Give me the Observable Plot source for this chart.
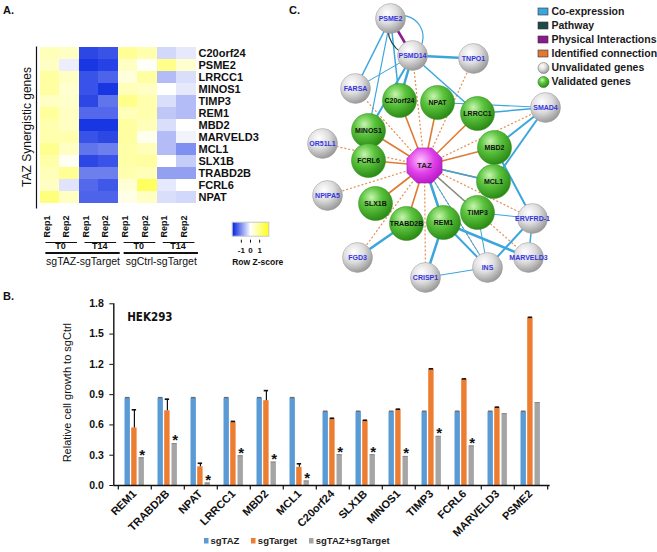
<!DOCTYPE html>
<html><head><meta charset="utf-8">
<script src="https://cdn.jsdelivr.net/npm/d3@7"></script>
<script src="https://cdn.jsdelivr.net/npm/@observablehq/plot@0.6"></script>
<style>
html,body{margin:0;padding:0;background:#fff;}
#fig{position:relative;width:657px;height:552px;overflow:hidden;background:#fff;font-family:"Liberation Sans",Arial,sans-serif;color:#111;}
.plab{position:absolute;font-weight:bold;font-size:11px;}
#legB div{min-height:0!important;margin:0!important;}
#legB span{margin-right:12px!important;}
#legB svg{margin-right:2px!important;}
</style></head>
<body><div id="fig"></div>
<svg width="0" height="0" style="position:absolute">
<defs id="defs">
<radialGradient id="gGray" cx="0.38" cy="0.32" r="0.75">
<stop offset="0" stop-color="#ffffff"/><stop offset="0.45" stop-color="#dedede"/><stop offset="1" stop-color="#8e8e8e"/></radialGradient>
<radialGradient id="gGreen" cx="0.38" cy="0.32" r="0.75">
<stop offset="0" stop-color="#c8f5b0"/><stop offset="0.4" stop-color="#5cc43e"/><stop offset="1" stop-color="#23820f"/></radialGradient>
<radialGradient id="gMag" cx="0.4" cy="0.35" r="0.75">
<stop offset="0" stop-color="#ffc0ff"/><stop offset="0.5" stop-color="#e040e8"/><stop offset="1" stop-color="#b010c0"/></radialGradient>
</defs></svg>
<script>
// ---------------- DATA ----------------
// Panel A: heatmap
const heatGenes = ["C20orf24","PSME2","LRRCC1","MINOS1","TIMP3","REM1","MBD2","MARVELD3","MCL1","SLX1B","TRABD2B","FCRL6","NPAT"];
const heatColumns = ["Rep1","Rep2","Rep1","Rep2","Rep1","Rep2","Rep1","Rep2"];
const heatTimes = ["T0","T14","T0","T14"];
const heatGroups = ["sgTAZ-sgTarget","sgCtrl-sgTarget"];
const heatZ = [
  [0.6, 0.5, -1.65, -1.55, 0.9, 0.7, -0.35, -0.2],
  [0.5, -0.15, -1.8, -1.7, 0.5, 0.05, 1.0, 0.4],
  [0.8, 0.5, -1.55, -1.4, 0.3, 0.8, -0.6, -0.3],
  [0.8, 0.4, -1.55, -1.8, 0.6, 0.5, 0.0, -0.2],
  [0.5, 0.45, -1.65, -1.25, 1.0, 0.7, -0.3, -0.6],
  [0.85, 0.5, -1.35, -1.35, 0.6, 0.7, -0.5, -0.6],
  [0.7, 0.5, -1.8, -1.8, 0.8, 0.6, -0.3, 0.0],
  [0.7, 0.7, -1.55, -1.65, 0.8, 0.15, -0.6, -0.1],
  [0.95, 0.5, -1.25, -1.15, 0.75, 0.6, -0.6, -1.0],
  [0.75, 0.1, -1.65, -1.55, 0.75, 0.8, 0.0, -0.45],
  [0.6, 0.9, -1.15, -1.15, 0.7, 0.6, -0.85, -0.85],
  [0.5, -0.25, -1.35, -1.5, 0.35, 1.35, -0.2, 0.0],
  [1.1, 0.5, -1.4, -1.4, 0.2, 0.5, -0.3, -0.35]
];
const zTicks = [-1, 0, 1];
const zDomain = [-2, 0, 2];

// Panel B: bar chart
const barGenes = ["REM1","TRABD2B","NPAT","LRRCC1","MBD2","MCL1","C20orf24","SLX1B","MINOS1","TIMP3","FCRL6","MARVELD3","PSME2"];
const barSeries = ["sgTAZ","sgTarget","sgTAZ+sgTarget"];
const sgTAZ =       [0.865,0.865,0.865,0.865,0.865,0.865,0.73,0.73,0.73,0.73,0.73,0.73,0.73];
const sgTAZErr =    [0.006,0.006,0.006,0.006,0.006,0.006,0.006,0.006,0.006,0.006,0.006,0.006,0.006];
const sgTarget =    [0.57,0.74,0.185,0.625,0.84,0.18,0.66,0.64,0.75,1.15,1.05,0.77,1.66];
const sgTargetErr = [0.18,0.115,0.035,0.01,0.10,0.035,0.006,0.006,0.006,0.006,0.006,0.006,0.006];
const sgCombo =     [0.275,0.415,0.025,0.295,0.232,0.045,0.305,0.305,0.288,0.487,0.393,0.712,0.822];
const comboSignificant = [true,true,true,true,true,true,true,true,true,true,true,false,false];
const barYTicks = [0, 0.3, 0.6, 0.9, 1.2, 1.5, 1.8];
const cellLine = "HEK293";

// Panel C: network
const netNodes =  ["PSME2","PSMD14","TNPO1","FARSA","C20orf24","NPAT","LRRCC1","SMAD4","MINOS1","MBD2","OR51L1","TAZ","FCRL6","MCL1","NPIPA5","SLX1B","TIMP3","TRABD2B","REM1","ERVFRD-1","FGD3","MARVELD3","CRISP1","INS"];
const netX =      [100,122,183,65,109,147,187,255,78,204,32,134,78,203,37,85,187,116,153,242,67,238,135,197];
const netY =      [18,55,58,88,100,102,113,107,130,147,143,165,160,181,195,203,212,223,222,218,257,257,277,267];
const validatedGenes = ["C20orf24","NPAT","LRRCC1","MINOS1","MBD2","FCRL6","MCL1","SLX1B","TIMP3","TRABD2B","REM1"];
const unvalidatedGenes = ["PSME2","PSMD14","TNPO1","FARSA","SMAD4","OR51L1","NPIPA5","ERVFRD-1","FGD3","MARVELD3","CRISP1","INS"];
const hubGene = "TAZ";
const edgeTypes = ["Co-expression","Pathway","Physical Interactions","Identified connection"];
const geneTypes = ["Unvalidated genes","Validated genes"];
const coexpEdges = [
  ["PSME2","FARSA",1.5],["PSME2","MINOS1",1.2],["PSME2","C20orf24",1.5],["PSMD14","FARSA",1],
  ["PSMD14","TNPO1",2.5],["PSMD14","C20orf24",2.5],["PSMD14","MINOS1",2],["PSMD14","LRRCC1",1.5],
  ["NPAT","SMAD4",1.2],["LRRCC1","SMAD4",1.5],["SMAD4","MBD2",2],["SMAD4","MCL1",2],["MBD2","ERVFRD-1",2],
  ["TAZ","MCL1",1.5],["TAZ","REM1",2.5],["TAZ","TIMP3",1],["TAZ","INS",1],["TIMP3","ERVFRD-1",1],["TIMP3","INS",1],
  ["REM1","MARVELD3",2.5],["REM1","INS",2],["REM1","CRISP1",2.5],["TRABD2B","FGD3",2.5],["CRISP1","INS",1],
  ["INS","ERVFRD-1",2],["ERVFRD-1","MARVELD3",1.5]
];
const coexpLoops = [["PSME2","PSMD14",1.2]];
const pathwayEdges = [["PSME2","PSMD14",1.3]];
const physicalEdges = [["PSME2","PSMD14",2.5]];
const identifiedTargets = ["C20orf24","NPAT","LRRCC1","MBD2","MINOS1","FCRL6","SLX1B","TRABD2B","REM1","TIMP3","MCL1",
  "PSMD14","TNPO1","FARSA","SMAD4","OR51L1","NPIPA5","FGD3","CRISP1","INS","ERVFRD-1","MARVELD3"];

// ---------------- STYLE ----------------
const FONT = '"Liberation Sans", Arial, sans-serif';
const NARROW = '"Liberation Sans Narrow", "DejaVu Sans Condensed", "Liberation Sans", Arial, sans-serif';
const heatRange = ["#0020e0", "#ffffff", "#ffff14"];
const barColors = ["#5b9bd5", "#ed7d31", "#a5a5a5"];
const edgeColors = ["#3aa6dc", "#1d4a48", "#8b1a8e", "#e07a32"];
const baseStyle = {fontFamily: FONT, fontSize: "11px", fontWeight: "bold", color: "#111", background: "transparent", overflow: "visible"};

const fig = document.getElementById("fig");
function place(el, left, top) { el.style.position = "absolute"; el.style.left = left + "px"; el.style.top = top + "px"; fig.appendChild(el); return el; }
function label(txt, left, top) { const d = document.createElement("div"); d.className = "plab"; d.textContent = txt; place(d, left, top); }

// ---------------- PANEL A ----------------
const heatCells = heatGenes.flatMap((g, i) => heatZ[i].map((z, j) => ({gene: g, col: j, z})));
const midA = (40.5 + 208.5) / 2;
const heatA = Plot.plot({
  width: 300, height: 280,
  marginLeft: 39.5, marginRight: 104, marginTop: 40.5, marginBottom: 71.5,
  style: baseStyle,
  x: {domain: [0, 8], axis: null},
  y: {domain: heatGenes, padding: 0},
  color: {type: "linear", domain: zDomain, range: heatRange},
  marks: [
    Plot.barX(heatCells, {x1: "col", x2: d => d.col + 1, y: "gene", fill: "z", shapeRendering: "crispEdges"}),
    Plot.axisY({anchor: "right", tickSize: 0, tickPadding: 2, fontSize: 11, fontWeight: "bold", label: null}),
    Plot.text(["TAZ Synergistic genes"], {frameAnchor: "left", textAnchor: "middle", rotate: -90, dx: -13, dy: 2, fontSize: 12, fontWeight: "normal"}),
    Plot.ruleX([0], {dx: -3.5, insetTop: 6, strokeWidth: 1.2}),
    Plot.text(heatColumns, {x: (d, i) => i + 0.5, frameAnchor: "bottom", rotate: -90, textAnchor: "end", dy: 6.5, fontSize: 9}),
    Plot.ruleY(heatTimes, {y: null, x1: (d, i) => 2 * i + 0.3, x2: (d, i) => 2 * i + 1.92, dy: 242 - midA, strokeWidth: 1}),
    Plot.text(heatTimes, {x: (d, i) => 2 * i + 1.05, frameAnchor: "bottom", dy: 40, fontSize: 9}),
    Plot.ruleY(heatGroups, {y: null, x1: (d, i) => 4 * i + 0.3, x2: (d, i) => 4 * i + 4.1, dy: 252.5 - midA, strokeWidth: 2}),
    Plot.text(heatGroups, {x: (d, i) => 4 * i + 2.2, frameAnchor: "bottom", dy: 56, fontSize: 10.5, fontWeight: "normal"})
  ]
});
place(heatA, 0, 0);

// gradient for z legend from the heatmap's own color scale
const cs = heatA.scale("color");
const NS = "http://www.w3.org/2000/svg";
const grad = document.createElementNS(NS, "linearGradient");
grad.setAttribute("id", "zgrad");
[-2, -1, 0, 1, 2].forEach((v, k) => {
  const s = document.createElementNS(NS, "stop");
  s.setAttribute("offset", k / 4);
  s.setAttribute("stop-color", cs.apply(v));
  grad.appendChild(s);
});
document.getElementById("defs").appendChild(grad);

const zLeg = Plot.plot({
  width: 60, height: 52, marginLeft: 6.7, marginRight: 16.7, marginTop: 6.7, marginBottom: 31.3,
  style: baseStyle,
  x: {domain: [zDomain[0], zDomain[2]]},
  marks: [
    Plot.frame({fill: "url(#zgrad)", stroke: "#c8c8c8"}),
    Plot.axisX({ticks: zTicks, tickFormat: d => String(d), tickSize: 3, tickPadding: 4, dy: 4, fontSize: 8, fontWeight: "bold", label: null}),
    Plot.text(["Row Z-score"], {frameAnchor: "bottom-left", textAnchor: "start", lineAnchor: "middle", dy: 26.5, fontSize: 8.5, fontWeight: "bold"})
  ]
});
place(zLeg, 225, 215);

// ---------------- PANEL C ----------------
const pos = Object.fromEntries(netNodes.map((n, i) => [n, [netX[i], netY[i]]]));
const toEdges = (list, type) => list.map(([s, t, w]) => ({source: s, target: t, type, w}));
const coexp = toEdges(coexpEdges, edgeTypes[0]);
const loops = toEdges(coexpLoops, edgeTypes[0]);
const pathway = toEdges(pathwayEdges, edgeTypes[1]);
const physical = toEdges(physicalEdges, edgeTypes[2]);
const identified = identifiedTargets.map(t => ({source: hubGene, target: t, type: edgeTypes[3], w: 1.6}));
const idSolid = identified.filter(d => validatedGenes.includes(d.target));
const idDashed = identified.filter(d => !validatedGenes.includes(d.target));
const ends = {x1: d => pos[d.source][0], y1: d => pos[d.source][1], x2: d => pos[d.target][0], y2: d => pos[d.target][1]};
const nodeXY = {x: d => pos[d][0], y: d => pos[d][1]};
const octagon = {draw(ctx, size) {
  const r = Math.sqrt(size / Math.PI);
  for (let k = 0; k < 8; ++k) {
    const a = Math.PI / 8 + k * Math.PI / 4;
    const px = r * Math.cos(a), py = r * Math.sin(a);
    if (k) ctx.lineTo(px, py); else ctx.moveTo(px, py);
  }
  ctx.closePath();
}};
const net = Plot.plot({
  width: 367, height: 290, margin: 0,
  style: baseStyle,
  x: {domain: [0, 367], range: [0, 367], axis: null},
  y: {domain: [0, 290], range: [0, 290], axis: null},
  color: {domain: edgeTypes, range: edgeColors},
  marks: [
    Plot.link(idDashed, {...ends, stroke: "type", strokeWidth: 1.2, strokeDasharray: "2,2", strokeOpacity: 0.85}),
    Plot.link(idSolid, {...ends, stroke: "type", strokeWidth: "w"}),
    Plot.link(coexp, {...ends, stroke: "type", strokeWidth: "w"}),
    Plot.arrow(loops, {...ends, bend: 110, headLength: 0, stroke: "type", strokeWidth: "w"}),
    Plot.arrow(pathway, {...ends, bend: -55, headLength: 0, stroke: "type", strokeWidth: "w"}),
    Plot.link(physical, {...ends, stroke: "type", strokeWidth: "w"}),
    Plot.dot(unvalidatedGenes, {...nodeXY, r: 15, fill: "url(#gGray)", stroke: "#9a9a9a", strokeWidth: 0.5}),
    Plot.dot(validatedGenes, {...nodeXY, r: 17, fill: "url(#gGreen)", stroke: "#2a8a18", strokeWidth: 0.5}),
    Plot.dot([hubGene], {...nodeXY, r: 19, symbol: octagon, fill: "url(#gMag)", stroke: "#a020b0", strokeWidth: 0.6}),
    Plot.text(unvalidatedGenes, {...nodeXY, text: d => d, fontSize: 7, fontWeight: "bold", fill: "#3434e0"}),
    Plot.text(validatedGenes, {...nodeXY, text: d => d, fontSize: 7, fontWeight: "bold", fill: "#111"}),
    Plot.text([hubGene], {...nodeXY, text: d => d, fontSize: 8, fontWeight: "bold", fill: "#222"})
  ]
});
place(net, 290, 0);

const legendItems = edgeTypes.concat(geneTypes);
const legC = Plot.plot({
  width: 122, height: 86, marginLeft: 0, marginRight: 0, marginTop: 0, marginBottom: 0,
  style: baseStyle,
  x: {type: "band", domain: ["icon"], range: [2.7, 13.3], padding: 0, axis: null},
  y: {domain: legendItems, paddingInner: 0.5, paddingOuter: 0.25, axis: null},
  color: {domain: edgeTypes, range: edgeColors},
  marks: [
    Plot.cell(edgeTypes, {x: () => "icon", y: d => d, fill: d => d, stroke: "#333", strokeWidth: 0.6}),
    Plot.dot([geneTypes[0]], {x: () => "icon", y: d => d, r: 5.5, fill: "url(#gGray)", stroke: "#777", strokeWidth: 0.6}),
    Plot.dot([geneTypes[1]], {x: () => "icon", y: d => d, r: 5.5, fill: "url(#gGreen)", stroke: "#2a7a18", strokeWidth: 0.6}),
    Plot.text(legendItems, {x: () => "icon", y: d => d, text: d => d, textAnchor: "start", dx: 8, fontSize: 10.5, fontWeight: "bold", fill: "#1a1a1a"})
  ]
});
place(legC, 535, 3);

// ---------------- PANEL B ----------------
const barData = barGenes.map((gene, i) => ({gene, taz: sgTAZ[i], tazErr: sgTAZErr[i], target: sgTarget[i], targetErr: sgTargetErr[i], combo: sgCombo[i], star: comboSignificant[i]}));
const BW = 33.4;
const SLOT = {taz: [6.5, 12.3], target: [13.2, 19.0], combo: [20.5, 26.3]};
const ins = ([a, b], e = 0) => ({insetLeft: a + e, insetRight: BW - b + e});
const mid = ([a, b]) => (a + b) / 2 - BW / 2;
const bTop = 13.3, bBottom = 67;
const barB = Plot.plot({
  width: 657, height: 262,
  marginLeft: 115.5, marginRight: 657 - 115.5 - 13 * BW, marginTop: bTop, marginBottom: bBottom,
  style: baseStyle,
  x: {domain: barGenes, padding: 0, axis: null},
  y: {domain: [0, 1.8]},
  color: {domain: barSeries, range: barColors},
  marks: [
    Plot.barY(barData, {x: "gene", y: "taz", fill: () => barSeries[0], ...ins(SLOT.taz)}),
    Plot.barY(barData, {x: "gene", y: "target", fill: () => barSeries[1], ...ins(SLOT.target)}),
    Plot.barY(barData, {x: "gene", y: "combo", fill: () => barSeries[2], ...ins(SLOT.combo)}),
    Plot.tickY(barData, {x: "gene", y: d => d.taz + d.tazErr, ...ins(SLOT.taz, 0.5), stroke: "#6a6a6a", strokeWidth: 1.4}),
    Plot.ruleX(barData, {x: "gene", y1: "target", y2: d => d.target + d.targetErr, dx: mid(SLOT.target), stroke: "#111", strokeWidth: 1.2}),
    Plot.tickY(barData, {x: "gene", y: d => d.target + d.targetErr, ...ins(SLOT.target, 0.5), stroke: "#111", strokeWidth: 1.6}),
    Plot.tickY(barData, {x: "gene", y: "combo", ...ins(SLOT.combo, 0.3), stroke: "#888", strokeWidth: 1}),
    Plot.text(barData.filter(d => d.star), {x: "gene", y: "combo", text: () => "*", dx: mid(SLOT.combo) + 0.5, dy: -3, fontSize: 15, fontWeight: "bold"}),
    Plot.ruleY([0], {insetLeft: -2.2, strokeWidth: 1.4}),
    Plot.ruleX([0], {x: null, dx: 113.3 - (115.5 + 115.5 + 13 * BW) / 2, strokeWidth: 1.4}),
    Plot.ruleX(barGenes, {x: d => d, y1: 0, y2: -0.045, dx: -BW / 2, strokeWidth: 1.2}),
    Plot.ruleX([barGenes[barGenes.length - 1]], {x: d => d, y1: 0, y2: -0.045, dx: BW / 2, strokeWidth: 1.2}),
    Plot.axisY({ticks: barYTicks, tickFormat: ".1f", tickSize: 4, tickPadding: 6, dx: -2.2, fontSize: 10.5, fontWeight: "bold", label: null}),
    Plot.text(barGenes, {x: d => d, frameAnchor: "bottom", rotate: -45, textAnchor: "end", dx: 2, dy: 9, fontSize: 11, fontWeight: "bold"}),
    Plot.text(["Relative cell growth to sgCtrl"], {frameAnchor: "left", textAnchor: "middle", rotate: -90, dx: 67 - 115.5, dy: -2, fontSize: 11, fontWeight: "normal"}),
    Plot.text([cellLine], {frameAnchor: "top-left", textAnchor: "start", lineAnchor: "middle", dx: 11.2, dy: 13.4, fontSize: 11.5, fontWeight: "bold", fontFamily: NARROW})
  ]
});
place(barB, 0, 290);

const legB = barB.legend("color", {swatchWidth: 4.5, swatchHeight: 5.5, style: {fontFamily: FONT, fontSize: "9.5px", fontWeight: "bold", color: "#222"}});
const legWrap = document.createElement("div");
legWrap.id = "legB";
legWrap.appendChild(legB);
place(legWrap, 204, 535);

label("A.", 3, 4);
label("B.", 3, 290);
label("C.", 289, 4);
</script></body></html>
